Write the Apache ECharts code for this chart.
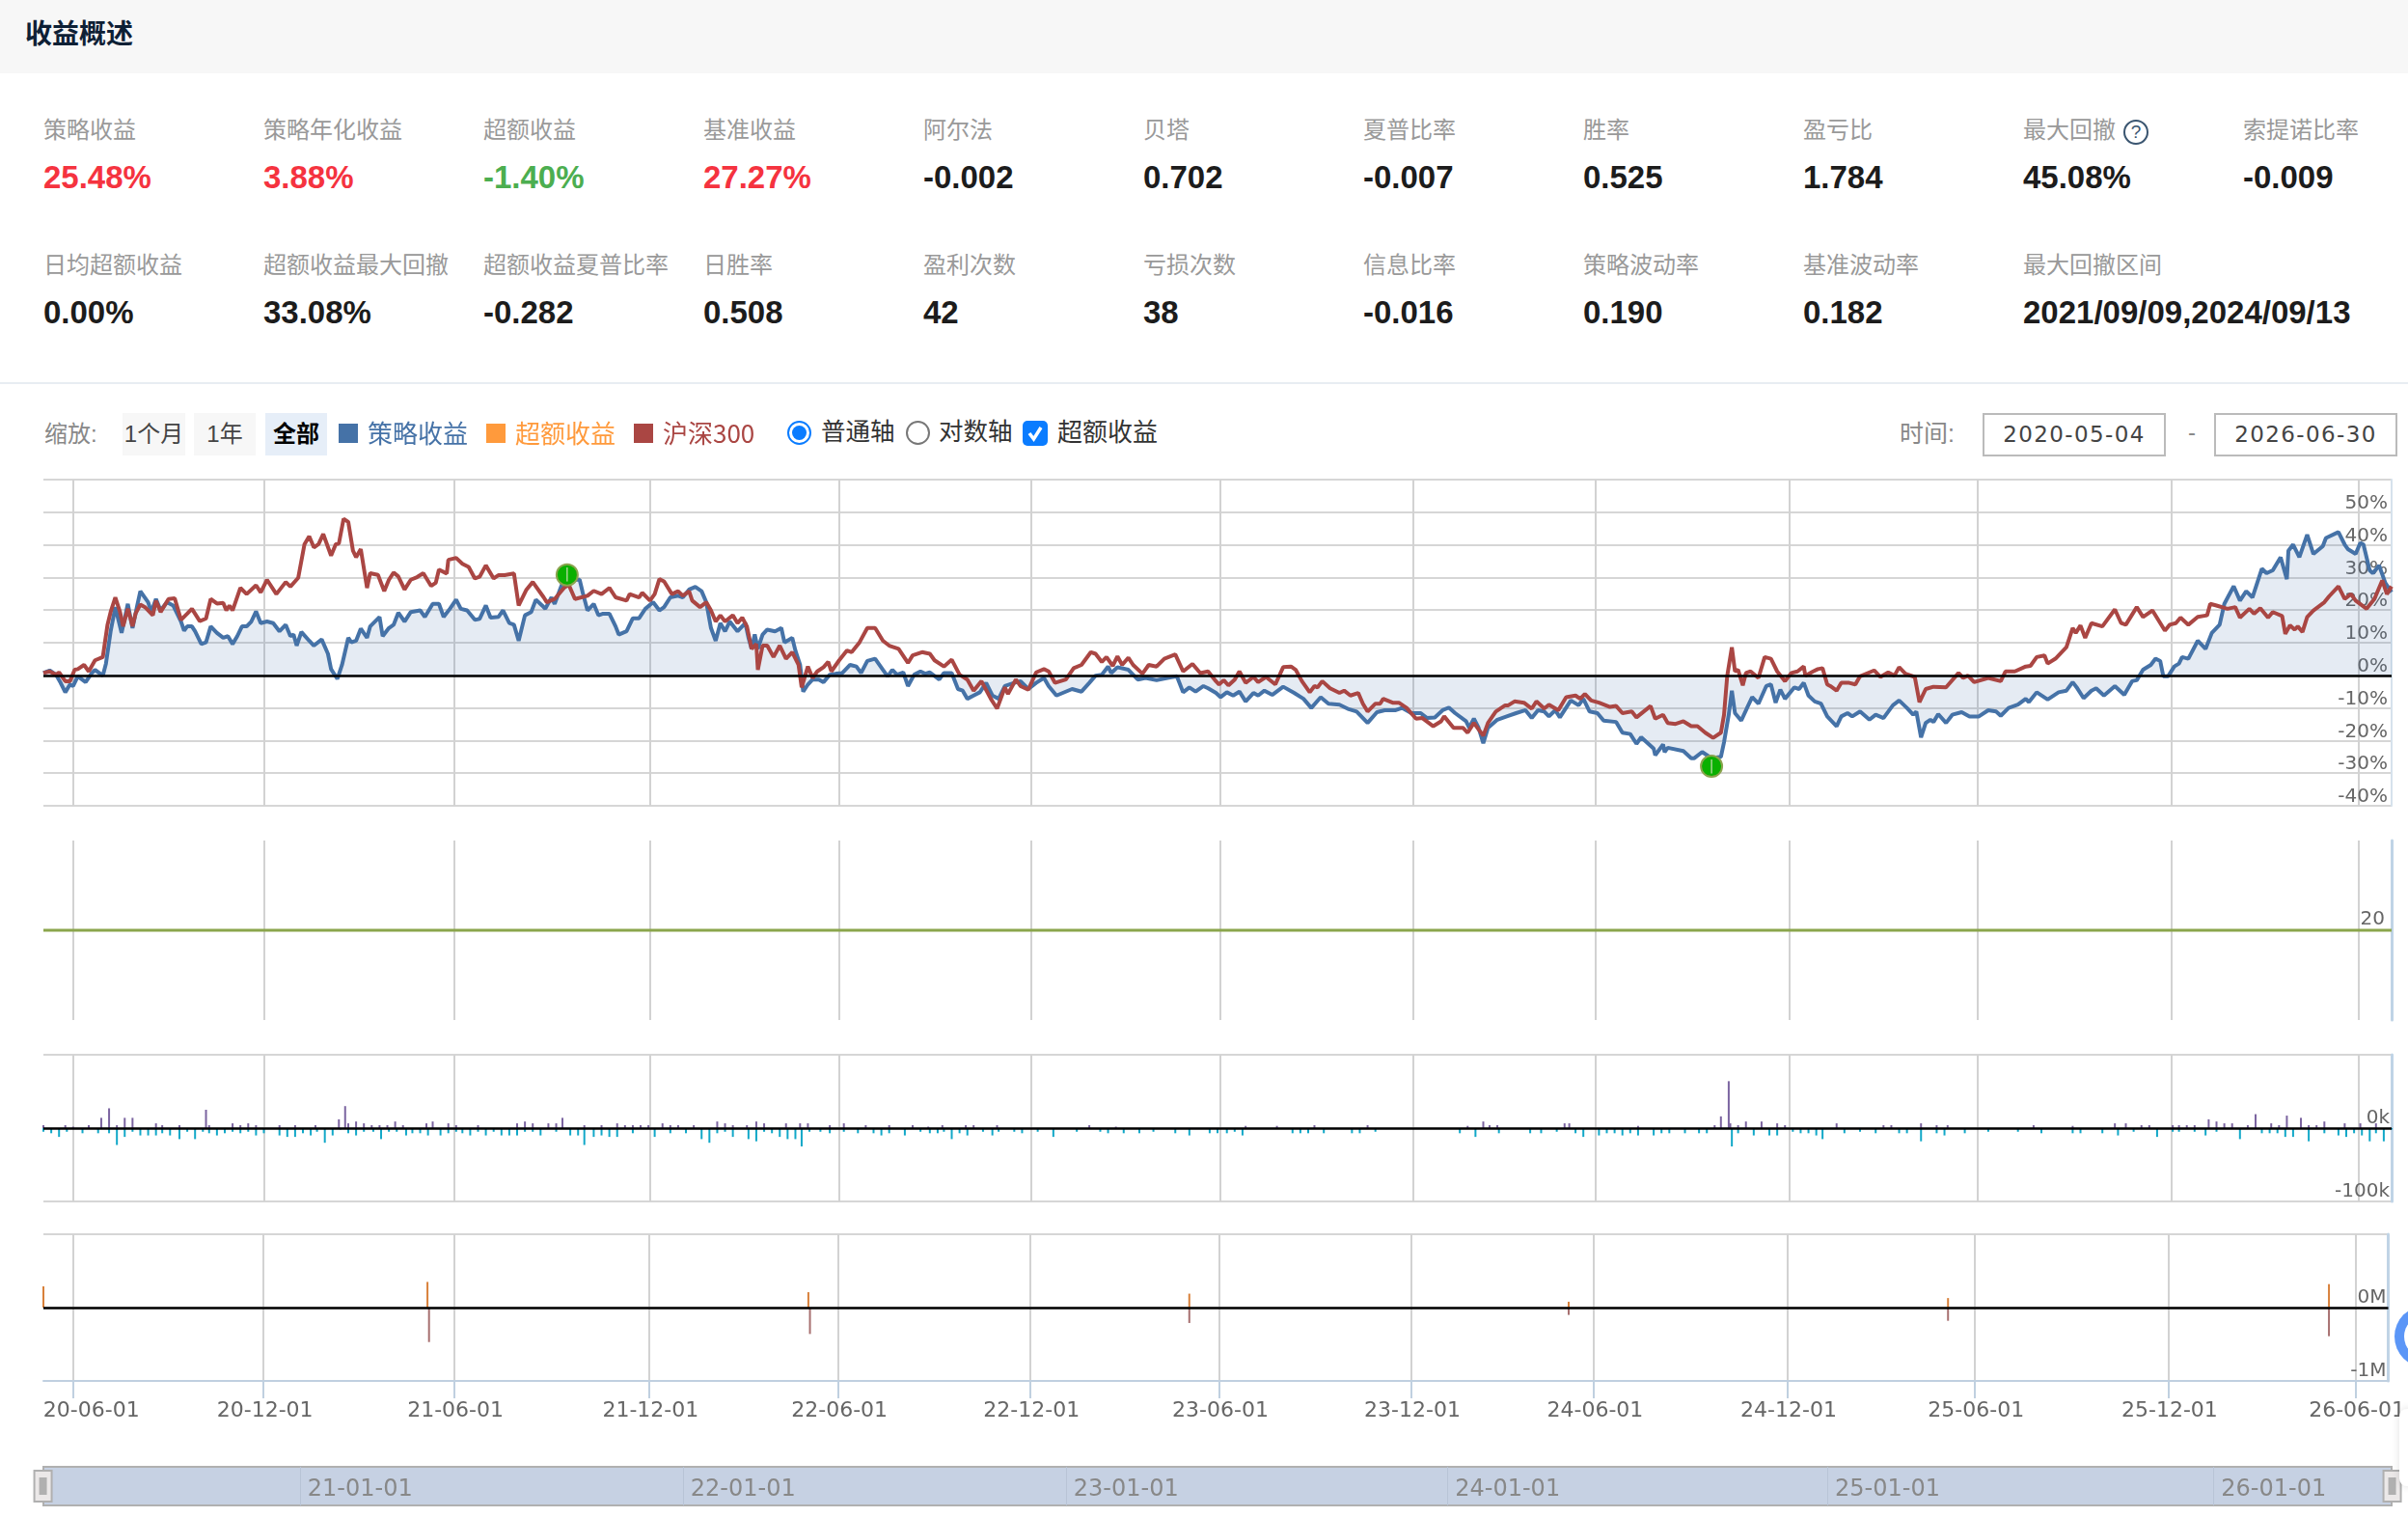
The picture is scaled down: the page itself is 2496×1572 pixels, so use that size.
<!DOCTYPE html>
<html lang="zh"><head><meta charset="utf-8"><title>收益概述</title>
<script src="https://cdn.jsdelivr.net/npm/echarts@6/dist/echarts.min.js"></script>
<style>
html,body{margin:0;padding:0;width:2496px;height:1572px;overflow:hidden;background:#fff;font-family:"Liberation Sans","Noto Sans CJK SC",sans-serif}
.t{position:absolute;white-space:nowrap;line-height:1;transform:translateY(-50%)}
.box{position:absolute}
#chart{position:absolute;left:0;top:0;width:2496px;height:1572px}
</style></head><body>
<div class="box" style="left:0;top:0;width:2496px;height:76px;background:#f7f7f7"></div>
<div class="box" style="left:0;top:396px;width:2496px;height:2px;background:#e8edf2"></div>
<div id="ui"></div>
<div id="chart"></div>
<div class="box" style="left:2487px;top:1460px;width:30px;height:80px;background:#fff;border-radius:8px;box-shadow:0 0 8px rgba(0,0,0,.12)"></div>
<div class="box" style="left:2482px;top:1353px;width:64px;height:64px;border-radius:50%;background:#5b96f7"></div>
<div class="box" style="left:2492px;top:1363px;width:44px;height:44px;border-radius:50%;background:#fff"></div>
<script>
// ---------- summary figures ----------
const metricLabels1=['策略收益','策略年化收益','超额收益','基准收益','阿尔法','贝塔','夏普比率','胜率','盈亏比','最大回撤','索提诺比率'];
const metricValues1=['25.48%','3.88%','-1.40%','27.27%','-0.002','0.702','-0.007','0.525','1.784','45.08%','-0.009'];
const metricColors1=['#f5333f','#f5333f','#4cae50','#f5333f'];
const metricLabels2=['日均超额收益','超额收益最大回撤','超额收益夏普比率','日胜率','盈利次数','亏损次数','信息比率','策略波动率','基准波动率','最大回撤区间'];
const metricValues2=['0.00%','33.08%','-0.282','0.508','42','38','-0.016','0.190','0.182','2021/09/09,2024/09/13'];

// ---------- x axis (trading-day index) ----------
const lastDay=1502;
const tickDays=[19,141,263,388,509,632,753,876,993,1117,1237,1361,1481];
const tickLabels=['20-06-01','20-12-01','21-06-01','21-12-01','22-06-01','22-12-01','23-06-01','23-12-01','24-06-01','24-12-01','25-06-01','25-12-01','26-06-01'];
const navDays=[164,409,654,898,1141,1388];
const navLabels=['21-01-01','22-01-01','23-01-01','24-01-01','25-01-01','26-01-01'];

// ---------- 策略收益 (%) ----------
const strategyDays=[0,4,8,11,14,17,19,22,27,31,33,38,40,43,46,50,54,57,60,62,67,69,72,75,79,83,88,90,92,95,97,101,104,107,111,115,118,121,124,127,130,133,136,139,143,147,151,155,158,160,162,165,170,173,178,182,184,188,191,195,197,200,203,207,209,215,217,221,224,227,231,235,241,244,249,253,256,260,264,267,271,276,279,283,286,291,294,298,301,304,308,312,315,319,321,325,327,332,336,343,345,348,352,355,358,362,366,368,373,377,381,385,390,394,397,401,406,409,413,417,421,424,427,430,433,436,439,444,449,451,453,455,457,460,463,468,472,474,479,481,484,486,489,492,496,499,503,507,511,516,520,523,527,532,537,540,543,546,550,553,557,561,564,567,573,576,581,585,588,591,595,599,603,607,611,615,621,625,630,635,640,643,648,658,664,669,673,677,681,683,687,694,700,705,712,719,725,729,733,737,742,745,750,753,757,761,765,769,774,777,781,786,793,800,806,811,817,822,829,835,840,847,853,858,865,869,875,881,885,890,895,899,903,910,912,915,918,921,924,930,936,942,948,952,956,960,963,967,970,977,982,985,989,994,998,1006,1010,1015,1019,1022,1030,1031,1036,1037,1039,1049,1054,1056,1061,1067,1073,1075,1078,1080,1082,1086,1090,1093,1097,1102,1105,1108,1111,1114,1120,1123,1126,1129,1133,1137,1141,1147,1150,1154,1157,1162,1168,1172,1177,1183,1187,1192,1196,1198,1201,1204,1207,1209,1212,1217,1221,1227,1232,1238,1244,1249,1252,1257,1263,1268,1270,1275,1282,1289,1294,1298,1301,1305,1310,1313,1318,1325,1331,1336,1339,1343,1348,1351,1354,1356,1359,1363,1366,1368,1372,1378,1383,1387,1392,1395,1401,1405,1409,1413,1419,1422,1426,1431,1435,1436,1439,1443,1448,1452,1458,1460,1468,1472,1474,1479,1482,1484,1488,1490,1494,1498,1502];
const strategyValues=[0.7,1.5,0.2,-2.3,-5.2,-2.8,-3.3,-0.3,-2.1,0.7,1.7,-0.1,3.6,13.5,20.9,13,21.9,14.5,21.4,25.8,22.4,19.4,23.4,19.9,22.4,21.4,16.5,13.7,15,15,13.5,9.6,10.1,15,13,11.5,12,9.6,12,15,15,16.5,19.6,16,16.5,16,13.5,15.5,12,12.5,9.1,13.3,10.6,9.1,11,6.6,1.9,-1.1,3.2,11.5,10.1,10.6,14.3,11.5,15,17.9,12,14.5,15.5,19.2,16.5,19.4,19.9,17.9,21.9,21.9,17.9,20.4,23.2,20.4,19.9,17,17.3,21.4,17.7,17.9,19.9,16,15.5,10.6,18.4,19.4,23.2,21.4,20.4,23.9,21.9,28.3,29.3,29.3,25.3,19.9,21.9,18.4,18.9,18.9,15,12.5,13.5,17.5,17.5,20.4,22.4,19.9,20.9,23.9,24.4,23.9,26.3,27.1,25.8,22.4,14.5,10.6,16,13.5,16.5,13.5,16,11.5,8.1,12.5,8.1,12.5,14,13.5,14.5,10.1,11.5,7.6,3.2,-5,-2.8,-1.3,-1.3,-2.1,0.2,0.5,0.7,3.2,2.7,0.7,4.4,5.1,1.7,-0.3,1.7,0.2,0.9,-3.3,0.2,1.2,0.5,0.9,-1.3,0.7,0.7,-4.2,-4.7,-7.2,-6.2,-5.2,-2.3,-6.2,-7.2,-3.3,-2.3,-1.8,-4.2,-2.3,-0.8,-3.3,-6.2,-4.2,-5,-2.3,-0.1,0.2,2.7,0.7,2.5,1.7,-1.3,-0.8,-1.5,-0.8,-0.3,-5.2,-3.7,-5,-3.3,-4,-5.4,-6.7,-5.2,-6.2,-5,-8,-5.4,-6.2,-4.7,-6,-3.5,-5.4,-7.2,-10,-6.7,-8.7,-9,-10.4,-11.1,-14.6,-11.3,-10.7,-10.7,-10,-11.6,-11.6,-13.1,-12.9,-10.7,-9.9,-11.6,-14.1,-16.1,-13.3,-16.1,-20.8,-16.1,-13.6,-12.6,-11.6,-10.7,-13.1,-10.7,-11.1,-12.6,-10.7,-12.9,-7.7,-9.2,-7.2,-11.1,-11.6,-13.9,-14.3,-17.6,-18,-21,-19,-22.5,-24.5,-21.2,-23.5,-22.2,-23.2,-25.4,-25.4,-23.5,-25.4,-25,-20.5,-12.1,-4.7,-11.6,-13.9,-9.7,-6.7,-8.7,-3.3,-2.8,-8.4,-4.4,-7.2,-3.7,-4.2,-2.3,-6.2,-8,-8.7,-12.6,-15.6,-12.6,-11.6,-12.6,-11.1,-13.6,-12.1,-13.1,-9.2,-7.7,-10,-12.1,-11.1,-19,-14.6,-13.6,-14.3,-11.9,-14.6,-12.1,-11.3,-12.6,-12.6,-10.7,-11.1,-12.4,-10,-9,-7.2,-8.2,-5.2,-7.4,-5.2,-4.7,-2.1,-4,-7,-4.7,-4,-6.2,-3.3,-6,-1.8,-1.5,1.7,3.2,5.1,4.4,-0.3,-0.3,2.7,3.6,5.6,5.1,10.6,8.1,13,15.5,21.9,27.3,22.9,25.8,23.9,32.7,31.3,32.2,36.2,29.5,38.2,40.1,36.2,43.1,37.2,39.6,42.1,43.9,40.1,38.7,37.2,40.6,40.1,32.2,31.3,33.7,28.3,25.48];

// ---------- 沪深300 (%) ----------
const benchmarkDays=[0,4,8,10,14,17,20,22,26,29,33,38,41,43,46,49,51,54,57,59,62,65,70,72,75,80,84,88,92,95,100,104,107,111,115,117,119,121,126,130,136,139,143,149,155,158,163,167,170,173,176,179,184,187,189,192,195,198,200,203,207,209,214,218,221,224,227,231,235,239,243,248,251,253,258,259,264,268,272,276,279,283,288,291,295,301,304,309,313,320,322,327,333,336,340,348,352,357,362,366,373,375,381,383,388,391,394,397,402,406,409,413,415,420,424,427,430,433,436,441,444,447,450,453,456,457,460,463,467,471,475,479,483,485,489,492,495,499,502,504,509,514,517,522,527,532,537,541,547,553,556,562,567,570,576,581,586,591,595,600,606,610,615,617,622,625,630,635,640,643,647,654,659,664,670,673,677,680,684,687,690,694,697,703,707,712,717,724,729,735,740,745,750,752,755,758,762,765,769,774,777,782,788,793,798,801,805,810,813,815,818,823,829,832,836,841,844,847,852,855,857,863,867,872,878,882,889,894,896,902,908,911,915,918,921,924,929,935,937,941,947,952,955,960,963,969,974,980,983,986,990,995,1002,1006,1010,1016,1019,1028,1031,1036,1039,1044,1049,1054,1058,1063,1068,1073,1075,1077,1080,1082,1084,1087,1089,1092,1097,1101,1105,1109,1114,1118,1122,1126,1127,1132,1135,1138,1141,1143,1147,1150,1155,1159,1162,1171,1175,1180,1184,1187,1191,1197,1200,1204,1209,1217,1225,1228,1231,1235,1244,1252,1255,1261,1268,1271,1275,1280,1282,1287,1294,1298,1300,1303,1306,1310,1317,1325,1329,1332,1339,1343,1349,1357,1360,1364,1367,1372,1378,1384,1386,1390,1397,1402,1405,1411,1414,1418,1423,1426,1432,1434,1437,1440,1442,1445,1448,1452,1459,1462,1468,1472,1476,1479,1486,1491,1496,1499,1502];
const benchmarkValues=[0.7,1.2,0.2,0.9,-1.8,-1.8,1.7,1.9,3.2,1.2,4.6,5.6,15.5,19.4,23.9,19.4,15,20.4,15,19,21.7,20.9,18.4,22.9,19.4,23.4,23.6,17,18.9,20.4,16.6,17.4,23.4,22,22.2,19.9,21.4,19.9,26.8,24.9,27.6,25.4,29.3,24.9,28.6,27.2,29.9,40.2,42.6,39.2,40.2,43.3,36.7,40.2,40.4,48,47,38.2,36.2,38.7,26.8,31.3,30.8,25.8,29.3,31.5,30.3,26.3,29.3,30.1,31.3,27.4,28.4,32.4,31.2,35.4,36,34.2,33.2,29.7,30.2,33.7,29.7,30.7,30.7,31.2,21.4,26.3,28.6,23.9,22.4,23.4,26.8,27.8,23.4,24.4,25.9,24.9,26.8,23.9,22.9,24.9,23.9,25.3,22.9,24.9,29.5,28.8,24.9,25.8,24.4,25.8,22.9,20.9,22.4,19.9,16.5,18.4,16.5,18.4,16,17.7,15,8.1,9.6,1.7,9.1,9.1,5.6,9.1,5.1,7.1,3.2,-3.7,2.7,-0.8,1.2,2.5,4.1,1.2,4.6,7.6,7.1,10.1,14.5,14.5,10.6,9.1,8.1,3.8,6.1,7.1,6.6,4.6,2.7,4.8,0.2,-1.3,-4.7,-1.8,-7.2,-10.2,-3.7,-5.7,-1.3,-3.3,-4.4,0.9,1.9,1.2,-2.3,-1.3,2.2,3.2,7.1,6.6,4.1,5.6,2.9,5.8,3.2,5.4,3.2,0.5,3.2,2.7,5.1,6.4,1.2,3.5,0.7,1.2,-1.8,-2.8,-1.5,-3.1,-1.3,1.2,-2.3,-0.5,-2.1,-0.5,-2.8,2.5,2.7,1.7,-1.8,-5.2,-3.3,-3.7,-1.8,-4,-5.4,-4.7,-6.2,-5.4,-8.7,-11.1,-8.7,-8.7,-7.2,-8.4,-8.4,-10,-13.3,-13.1,-15.6,-14.1,-12.6,-16.1,-16.1,-17.6,-14.6,-16.6,-18.5,-14.6,-11.1,-9.2,-9.2,-8,-8.4,-10.2,-8,-10.2,-9,-10.7,-6.7,-6.2,-7.2,-5.7,-7.7,-8.4,-9.7,-9.4,-11.6,-11.1,-12.9,-9.4,-13.3,-12.1,-14.6,-14.9,-14.1,-15.6,-15.6,-17.6,-19.2,-17.6,-12.1,-0.3,8.6,1.2,1.7,-3.1,0.7,1.2,-0.8,5.6,5.1,1.2,-1.8,0.7,1.2,2.7,-0.1,1.2,1.9,2.2,-2.8,-3.3,-4.7,-2.3,-2.3,-2.8,-0.3,1.5,-0.5,0.9,-0.1,2.5,0.5,-0.5,-8.2,-4.2,-3.5,-3.7,0.7,-0.8,-0.1,-2.1,-0.8,-1.8,1.2,1.2,2.7,2.9,5.6,6.1,3.6,5.1,8.6,14.5,13,15.3,11.5,16,15,20.2,16,15.5,20.9,17.9,19.9,13.7,15.5,16,17.7,15.5,17.9,18.4,21.9,21.4,20.4,20.9,17.7,20.4,18.9,20.6,17.7,19.4,18.2,12.7,15.3,14,15,13.3,17.9,19.9,22.4,24.2,27.3,23.4,24.9,22.9,20.4,23.4,29.1,24.9,27.27];

// ---------- 最大回撤 flags ----------
const flagDays=[335,1067];
const flagValues=[30.8,-27.9];

// ---------- 均线 (second panel) ----------
const maDays=[0,1502];
const maValues=[20,20];

// ---------- third panel (k) ----------
const flowUpDays=[0,14,19,29,37,42,47,52,57,72,76,87,104,106,121,126,131,136,151,161,174,189,193,195,200,205,210,215,220,225,230,245,249,259,264,278,303,308,313,323,328,332,346,357,367,372,377,382,387,396,401,406,416,431,436,441,450,456,461,475,484,489,503,512,526,541,556,566,575,590,595,610,669,686,769,789,813,847,911,921,925,930,973,976,1020,1069,1073,1078,1079,1084,1089,1099,1109,1114,1147,1177,1182,1201,1211,1218,1273,1298,1325,1332,1342,1347,1362,1366,1371,1376,1385,1390,1395,1400,1410,1415,1425,1430,1435,1444,1449,1454,1459,1472,1482,1492];
const flowUpValues=[4,4,2,4,14,27,4,14,14,6.5,4,4,25,4,6.5,4,6.5,4,4,4,4,12,30,6.5,9,6.5,4,4,4,9,4,6.5,9,6.5,4,4,6.5,9,6.5,6.5,6.5,14,4,4,6.5,4,4,4,4,6.5,4,4,4,9,6.5,4,4,9,6.5,6.5,6.5,6.5,4,6.5,4,4,4,2,4,4,4,4,4,2,3,3,4,4,3,9,4,4,6.5,6.5,3,4,16,64,6.5,4,9,9,6.5,4,6.5,4,4,6.5,4,4,4,3,6.5,6.5,4,4,4,4,4,4,12,9,6.5,6.5,4,19,6.5,4,17,14,4,4,9,6.5,6.5,6.5];
const flowDownDays=[0,5,10,15,25,35,42,47,52,57,62,67,72,76,81,87,92,97,102,106,111,116,121,126,131,136,141,151,156,161,166,171,175,180,185,190,195,200,205,211,216,221,226,232,236,241,246,254,259,264,268,273,278,283,288,293,298,303,308,313,318,328,337,342,346,352,357,362,367,377,391,401,411,421,426,431,436,441,451,456,461,466,471,476,481,485,490,497,503,512,521,531,536,541,551,561,567,572,576,581,586,591,601,607,611,621,626,636,646,661,676,681,691,701,710,724,733,746,751,757,762,767,799,804,809,819,837,842,852,906,916,931,951,958,968,980,985,995,1000,1005,1010,1015,1020,1030,1035,1040,1050,1059,1064,1080,1084,1094,1104,1109,1119,1124,1129,1134,1138,1152,1162,1172,1187,1192,1201,1211,1216,1229,1244,1263,1278,1298,1303,1317,1327,1337,1352,1362,1366,1376,1383,1390,1405,1419,1424,1429,1434,1439,1449,1459,1468,1473,1478,1483,1488,1492,1497,1502];
const flowDownValues=[-5,-7,-12,-5,-7,-7,-7,-23,-12,-5,-10,-10,-10,-7,-10,-15,-5,-15,-5,-7,-10,-7,-5,-7,-5,-10,-7,-10,-12,-12,-7,-10,-5,-20,-10,-2,-7,-10,-5,-5,-15,-5,-5,-10,-7,-7,-10,-10,-7,-5,-7,-10,-5,-10,-5,-10,-10,-10,-5,-5,-10,-5,-10,-10,-23,-12,-10,-12,-12,-7,-12,-7,-7,-15,-20,-7,-5,-12,-15,-18,-5,-7,-12,-15,-15,-25,-5,-5,-7,-5,-7,-7,-10,-7,-10,-5,-7,-7,-5,-15,-7,-10,-5,-10,-5,-5,-7,-5,-12,-5,-5,-7,-7,-7,-5,-7,-10,-7,-7,-7,-5,-10,-7,-7,-7,-7,-7,-7,-5,-7,-12,-7,-7,-7,-5,-7,-12,-10,-7,-7,-10,-7,-10,-10,-7,-7,-7,-7,-7,-25,-7,-10,-10,-10,-5,-7,-7,-10,-15,-7,-5,-7,-7,-7,-18,-7,-10,-7,-5,-5,-7,-7,-7,-7,-10,-5,-12,-5,-5,-5,-10,-5,-15,-7,-7,-7,-12,-12,-18,-7,-10,-12,-7,-10,-18,-7,-18,-2];

// ---------- fourth panel (M) ----------
const buyDays=[0,246,490,734,977,1220,1464];
const buyValues=[0.29,0.35,0.21,0.19,0.08,0.13,0.32];
const sellDays=[247,491,734,977,1220,1464];
const sellValues=[-0.47,-0.36,-0.21,-0.10,-0.18,-0.39];

// ---------- page text ----------
const zoomLabels=['1个月','1年','全部'];
const dateRange=['2020-05-04','2026-06-30'];

const ui=document.getElementById('ui');
function txt(s,x,y,size,color,extra){const d=document.createElement('div');d.className='t';d.textContent=s;
  d.style.cssText+=`left:${x}px;top:${y}px;font-size:${size}px;color:${color};`+(extra||'');ui.appendChild(d);return d;}
function box(x,y,w,h,css){const d=document.createElement('div');d.className='box';
  d.style.cssText+=`left:${x}px;top:${y}px;width:${w}px;height:${h}px;`+css;ui.appendChild(d);return d;}
txt('收益概述',26,36,28,'#0e2035','font-weight:700;');
metricLabels1.forEach((s,i)=>{const x=45+228*i;txt(s,x,134.5,24,'#999');
  txt(metricValues1[i],x,183,33,metricColors1[i]||'#1c1c1c','font-weight:700;');});
metricLabels2.forEach((s,i)=>{const x=45+228*i;txt(s,x,274.5,24,'#999');
  txt(metricValues2[i],x,323,33,'#1c1c1c','font-weight:700;');});
const q=box(2201,124,22,22,'border:2px solid #3a5570;border-radius:50%;color:#3a5570;font-size:19px;line-height:22px;text-align:center;');q.textContent='?';
txt('缩放:',46,449.5,24,'#888');
[[127,65],[201,64],[275,64]].forEach((b,i)=>{const active=i===2;
  const d=box(b[0],428,b[1],44,`background:${active?'#e6eef8':'#f7f7f7'};color:${active?'#000':'#444'};font-size:24px;line-height:44px;text-align:center;font-weight:${active?700:400};`);d.textContent=zoomLabels[i];});
box(816,436,21,21,'border:2px solid #0a7cff;border-radius:50%;background:#fff;');
box(821,441,15,15,'border-radius:50%;background:#0a7cff;');
txt('普通轴',851,448,25.5,'#333');
box(939,436,21,21,'border:2px solid #777;border-radius:50%;background:#fff;');
txt('对数轴',973,448,25.5,'#333');
const cb=box(1060,436,26,26,'background:#0a7cff;border-radius:5px;');
cb.innerHTML='<svg width="26" height="26" viewBox="0 0 26 26"><path d="M7 13 L11.5 19 L19 7" fill="none" stroke="#fff" stroke-width="3.5"/></svg>';
txt('超额收益',1096,448,26,'#333');
txt('时间:',1969,449,25,'#888');
[[2055,0],[2295,1]].forEach(b=>{const d=box(b[0],428,186,41,`border:2px solid #bbb;background:#fff;color:#444;font-family:'DejaVu Sans';font-size:23px;line-height:41px;text-align:center;letter-spacing:1.4px;`);d.textContent=dateRange[b[1]];});
txt('-',2268,448,24,'#888');

// ---------- chart ----------
const zip=(a,b)=>a.map((v,i)=>[v,b[i]]);
const L=45,W=2434;
const FONT='"DejaVu Sans"';
const grids=[{top:497,height:338},{top:871,height:186},{top:1093,height:152},{top:1279,height:152},{top:1520,height:40}]
 .map((g,i)=>Object.assign({left:L,width:W,containLabel:false},g,i===4?{show:true,backgroundColor:'#c6d1e3',borderColor:'#b0b0b0',borderWidth:2}:{}));
const GRID='#d6d6d6';
function xAxis(i){
  const base={type:'value',gridIndex:i,min:0,max:lastDay,scale:false,
    axisLine:{show:false},axisTick:{show:false,customValues:tickDays},axisLabel:{show:false,customValues:tickDays},
    splitLine:{show:true,lineStyle:{color:'#d2d2d2',width:2}}};
  if(i===3){
    base.axisLine={show:true,onZero:false,lineStyle:{color:'#c0d0e0',width:2}};
    base.axisTick={show:true,customValues:tickDays,length:18,lineStyle:{color:'#c0d0e0',width:2}};
    base.axisLabel={show:true,customValues:tickDays,margin:20,color:'#666',fontFamily:FONT,fontSize:22,padding:[0,0,0,3],
      formatter:v=>{const k=tickDays.indexOf(v);return k===0?`{first|${tickLabels[k]}}`:tickLabels[k];},
      rich:{first:{padding:[0,0,0,35],color:'#666',fontFamily:FONT,fontSize:22}}};
  }
  if(i===4){
    base.position='bottom';
    base.axisTick={show:false,customValues:navDays};
    base.axisLabel={show:true,customValues:navDays,inside:true,margin:4,align:'left',padding:[0,0,0,8],color:'#888',fontFamily:FONT,fontSize:24,
      formatter:v=>navLabels[navDays.indexOf(v)]};
    base.splitLine={show:true,lineStyle:{color:'#b8c4d6',width:1}};
  }
  return base;
}
function yAxis(i,o){
  return Object.assign({type:'value',gridIndex:i,position:'right',
    axisLine:{show:true,onZero:false,lineStyle:{color:i===0?'#d6e2ec':'#c0d4e6',width:i===0?2:3}},axisTick:{show:false},
    splitLine:{show:i!==1,lineStyle:{color:GRID,width:2}}},o);
}
const yLabel=(margin,lh,fmt)=>({inside:true,margin,color:'#666',fontFamily:FONT,fontSize:20,verticalAlign:'bottom',lineHeight:lh,showMaxLabel:false,formatter:fmt});
const zero={silent:true,symbol:'none',label:{show:false},lineStyle:{color:'#000',width:2.5,type:'solid'},data:[{yAxis:0}],animation:false};

const option={
  animation:false,
  textStyle:{fontFamily:'"Liberation Sans","Noto Sans CJK SC",sans-serif'},
  grid:grids,
  legend:{left:346,top:431,itemWidth:20,itemHeight:20,icon:'rect',itemGap:19,selectedMode:false,
    textStyle:{fontSize:26,padding:[0,0,0,5],fontFamily:'"Noto Sans CJK SC"'},
    data:[{name:'策略收益',textStyle:{color:'#4572a7'}},{name:'超额收益',textStyle:{color:'#ff9a3c'}},{name:'沪深300',textStyle:{color:'#aa4643'}}]},
  xAxis:[0,1,2,3,4].map(xAxis),
  yAxis:[
    yAxis(0,{min:-40,max:60,interval:10,axisLabel:yLabel(4,18,v=>v+'%')}),
    yAxis(1,{min:0,max:40,interval:20,axisLabel:yLabel(7,22,v=>v===20?'20':'')}),
    yAxis(2,{min:-100,max:100,interval:100,axisLabel:yLabel(2,20,v=>v+'k')}),
    yAxis(3,{min:-1,max:1,interval:1,axisLabel:yLabel(2,20,v=>v+'M')}),
    {type:'value',gridIndex:4,min:0,max:1,show:false,splitLine:{show:false}}
  ],
  dataZoom:[{type:'slider',xAxisIndex:[0,1,2,3,4],filterMode:'none',start:0,end:100,left:42,width:2437,top:1520,height:40,
    showDetail:false,showDataShadow:false,brushSelect:false,moveHandleSize:0,
    backgroundColor:'transparent',fillerColor:'transparent',borderColor:'transparent',
    handleIcon:'path://M0,0 H18 V32 H0 Z M6,8 V24 H8 V8 Z M10,8 V24 H12 V8 Z',handleSize:'80%',
    handleStyle:{color:'#ebe8e8',borderColor:'#b0b0b0',borderWidth:2},
    emphasis:{handleStyle:{color:'#ebe8e8',borderColor:'#b0b0b0'}}}],
  series:[
    {name:'策略收益',type:'line',xAxisIndex:0,yAxisIndex:0,data:zip(strategyDays,strategyValues),showSymbol:false,symbol:'none',
      color:'#4572a7',lineStyle:{width:4,color:'#4572a7'},areaStyle:{color:'rgba(69,114,167,0.2)'},markLine:zero,z:3},
    {name:'超额收益',type:'line',xAxisIndex:0,yAxisIndex:0,data:[],showSymbol:false,color:'#ff9a3c',z:3},
    {name:'沪深300',type:'line',xAxisIndex:0,yAxisIndex:0,data:zip(benchmarkDays,benchmarkValues),showSymbol:false,symbol:'none',
      color:'#aa4643',lineStyle:{width:4,color:'#aa4643'},z:4},
    {name:'最大回撤',type:'scatter',xAxisIndex:0,yAxisIndex:0,data:zip(flagDays,flagValues),symbolSize:22,
      itemStyle:{color:'#0ab000',opacity:1,borderColor:'#8ba44f',borderWidth:2},z:6,
      label:{show:true,position:'inside',formatter:'|',color:'#c8dcae',fontSize:14,fontFamily:FONT}},
    {name:'MA',type:'line',xAxisIndex:1,yAxisIndex:1,data:zip(maDays,maValues),showSymbol:false,symbol:'none',color:'#8ba54c',lineStyle:{width:3,color:'#8ba54c'}},
    {name:'净流入',type:'bar',xAxisIndex:2,yAxisIndex:2,data:zip(flowUpDays,flowUpValues),barWidth:2,barGap:'-100%',color:'#7b64a0',markLine:zero},
    {name:'净流出',type:'bar',xAxisIndex:2,yAxisIndex:2,data:zip(flowDownDays,flowDownValues),barWidth:2,barGap:'-100%',color:'#12a8c8'},
    {name:'买入',type:'bar',xAxisIndex:3,yAxisIndex:3,data:zip(buyDays,buyValues),barWidth:2,barGap:'-100%',color:'#d8803a',markLine:zero},
    {name:'卖出',type:'bar',xAxisIndex:3,yAxisIndex:3,data:zip(sellDays,sellValues),barWidth:2,barGap:'-100%',color:'#a77070'}
  ]
};
const chart=echarts.init(document.getElementById('chart'),null,{renderer:'canvas',width:2496,height:1572});
chart.setOption(option);
</script></body></html>
